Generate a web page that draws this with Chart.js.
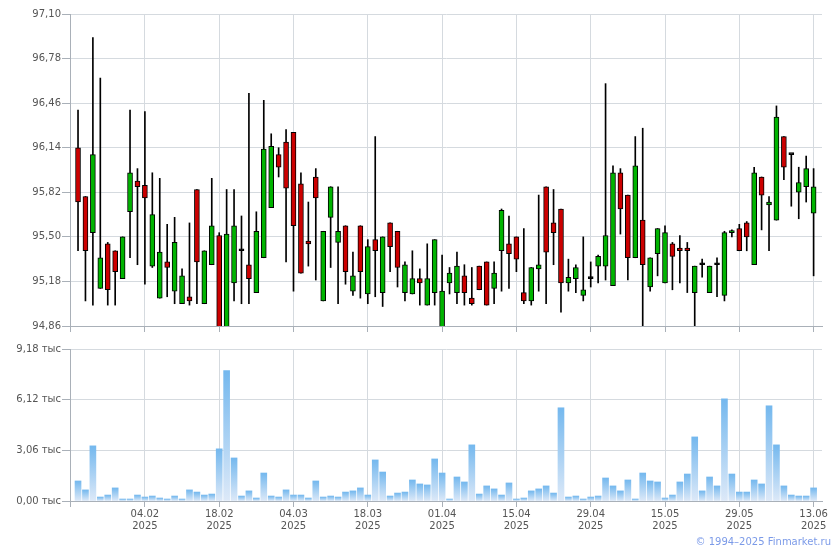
<!DOCTYPE html>
<html>
<head>
<meta charset="utf-8">
<script src="https://cdn.jsdelivr.net/npm/chart.js@4.4.0/dist/chart.umd.min.js"></script>
<style>
  body { margin: 0; background: #fff; width: 840px; height: 550px; position: relative; overflow: hidden; }
  #price { position: absolute; left: 0; top: 0; }
  #volume { position: absolute; left: 0; top: 340px; }
  #copy { position: absolute; right: 9px; top: 536px; font: 10px "DejaVu Sans"; color: #7b9ae8; }
</style>
</head>
<body>
<canvas id="price" width="840" height="340"></canvas>
<canvas id="volume" width="840" height="210"></canvas>
<div id="copy">© 1994–2025 Finmarket.ru</div>
<script>
// OHLC per trading day, 22.01.2025 .. 13.06.2025
var opens = [96.14,95.79,95.53,95.13,95.45,95.40,95.20,95.68,95.90,95.87,
  95.29,95.06,95.32,95.11,95.02,95.07,95.84,95.02,95.30,95.51,
  94.84,95.17,95.40,95.30,95.10,95.35,95.71,96.09,96.18,96.25,
  95.88,95.47,95.93,95.04,95.64,95.46,95.58,95.11,95.58,95.09,
  95.48,95.10,95.60,95.54,95.10,95.09,95.20,95.01,95.10,94.84,
  95.17,95.10,95.22,95.06,95.29,95.32,95.13,95.40,95.45,95.50,
  95.10,95.04,95.27,95.86,95.60,95.70,95.17,95.20,95.08,95.20,
  95.29,95.29,95.15,95.96,95.80,95.35,95.62,95.14,95.38,95.17,
  95.45,95.42,95.42,95.10,95.30,95.10,95.30,95.08,95.53,95.56,
  95.60,95.30,95.93,95.73,95.62,96.22,96.09,95.82,95.86,95.67]
var highs = [96.41,95.79,96.93,96.64,95.46,95.40,95.50,96.41,95.99,96.40,
  95.96,95.92,95.59,95.64,95.27,95.60,95.84,95.40,95.92,95.53,
  95.84,95.84,95.65,96.53,95.68,96.48,96.24,96.14,96.27,96.25,
  95.96,95.75,95.99,95.54,95.86,95.86,95.58,95.39,95.58,95.48,
  96.22,95.50,95.60,95.54,95.32,95.40,95.27,95.45,95.48,95.37,
  95.28,95.39,95.30,95.28,95.29,95.32,95.32,95.70,95.65,95.50,
  95.56,95.28,95.80,95.86,95.84,95.70,95.34,95.30,95.50,95.32,
  95.37,96.60,96.01,95.99,95.80,96.22,96.28,95.35,95.56,95.58,
  95.46,95.51,95.46,95.29,95.34,95.29,95.35,95.54,95.55,95.59,
  95.61,96.00,95.93,95.79,96.44,96.22,96.09,96.00,96.08,95.99]
var lows = [95.40,95.04,95.01,95.13,95.01,95.01,95.20,95.35,95.30,95.16,
  95.28,95.06,95.07,95.02,95.02,95.01,95.02,95.02,95.30,94.84,
  94.84,95.04,95.02,95.02,95.10,95.35,95.71,95.93,95.32,95.11,
  95.24,95.29,95.19,95.04,95.28,95.02,95.16,95.08,95.06,95.02,
  95.07,95.00,95.25,95.14,95.04,95.09,95.01,95.01,95.01,94.84,
  95.09,95.02,95.01,95.01,95.12,95.01,95.02,95.11,95.13,95.25,
  95.02,95.01,95.11,95.02,95.30,94.96,95.11,95.10,95.04,95.14,
  95.17,95.19,95.15,95.52,95.19,95.35,94.84,95.11,95.22,95.17,
  95.12,95.17,95.10,94.84,95.21,95.10,95.07,95.04,95.50,95.40,
  95.40,95.30,95.55,95.40,95.62,95.91,95.72,95.63,95.75,95.22]
var closes = [95.75,95.40,96.09,95.35,95.12,95.25,95.50,95.96,95.86,95.78,
  95.66,95.39,95.28,95.46,95.22,95.04,95.32,95.40,95.58,94.84,
  95.52,95.58,95.40,95.20,95.54,96.13,96.15,96.00,95.85,95.58,
  95.24,95.45,95.78,95.54,95.86,95.54,95.25,95.22,95.25,95.43,
  95.40,95.50,95.43,95.28,95.30,95.20,95.17,95.20,95.48,95.11,
  95.24,95.29,95.10,95.02,95.12,95.01,95.24,95.69,95.38,95.34,
  95.04,95.28,95.30,95.39,95.53,95.17,95.21,95.28,95.12,95.20,
  95.36,95.51,95.96,95.70,95.35,96.01,95.30,95.35,95.56,95.53,
  95.36,95.40,95.40,95.29,95.30,95.29,95.30,95.53,95.54,95.40,
  95.50,95.96,95.80,95.75,96.36,96.00,96.09,95.89,95.99,95.86]
// volume, thousands
var volumes = [1.21,0.67,3.33,0.24,0.36,0.79,0.12,0.12,0.36,0.24,
  0.30,0.18,0.12,0.30,0.12,0.67,0.54,0.36,0.42,3.15,
  7.87,2.60,0.30,0.61,0.18,1.69,0.30,0.24,0.67,0.36,
  0.36,0.18,1.21,0.24,0.30,0.24,0.54,0.61,0.79,0.36,
  2.48,1.75,0.30,0.48,0.54,1.27,1.03,0.97,2.54,1.69,
  0.12,1.45,1.15,3.39,0.42,0.91,0.73,0.36,1.09,0.12,
  0.18,0.61,0.73,0.91,0.48,5.63,0.24,0.30,0.12,0.24,
  0.30,1.39,0.91,0.61,1.27,0.12,1.69,1.21,1.15,0.18,
  0.36,1.15,1.63,3.87,0.61,1.45,0.91,6.17,1.63,0.54,
  0.54,1.27,1.03,5.75,3.39,0.91,0.36,0.30,0.30,0.79]

var tickDates = ['04.02','18.02','04.03','18.03','01.04','15.04','29.04','15.05','29.05','13.06']
var tickYear = '2025'
var tickPos = [9,19,29,39,49,59,69,79,89,99]
var priceTicks = [94.86,95.18,95.50,95.82,96.14,96.46,96.78,97.10]
var volumeTicks = [0,3.06,6.12,9.18]

var xMin = -1.08, xMax = 100.13
var gridColor = '#d5dadf'
var axisColor = '#a9b0b8'
var textColor = '#555555'
var font = { family: 'DejaVu Sans', size: 10 }

function xAxis(showLabels){
  return {
    type: 'linear',
    min: xMin,
    max: xMax,
    offset: false,
    afterBuildTicks: function(scale){
      scale.ticks = [{value: xMin}].concat(tickPos.map(v => ({value: v})))
    },
    afterFit: function(scale){
      if (showLabels) scale.height = 49
    },
    ticks: {
      display: showLabels,
      autoSkip: false,
      maxRotation: 0,
      padding: 1,
      color: textColor,
      font: font,
      callback: function(v){
        var k = tickPos.indexOf(v)
        return k < 0 ? '' : [tickDates[k], tickYear]
      }
    },
    grid: { offset: false, color: gridColor, tickColor: axisColor, tickLength: 6 },
    border: { color: axisColor }
  }
}

function yAxis(min, max, list, fmt){
  return {
    min: min,
    max: max,
    afterBuildTicks: function(scale){ scale.ticks = list.map(v => ({value: v})) },
    afterFit: function(scale){ scale.width = 70 },
    ticks: { color: textColor, font: font, padding: 1, callback: fmt },
    grid: { color: gridColor, tickColor: axisColor, tickLength: 8 },
    border: { color: axisColor }
  }
}

function renderPrice(){
  var bodies = []
  var wicks = []
  var colors = []
  opens.forEach((o, i) => {
    bodies.push({x: i, y: [o, closes[i]]})
    wicks.push({x: i, y: [lows[i], highs[i]]})
    colors.push(closes[i] > o ? '#00b400' : (closes[i] < o ? '#cc0000' : '#000000'))
  })
  new Chart(document.getElementById('price'), {
    type: 'bar',
    data: {
      datasets: [{
        label: 'body',
        data: bodies,
        backgroundColor: colors,
        borderColor: '#000000',
        borderWidth: 1,
        borderSkipped: false,
        barThickness: 5,
        minBarLength: 2,
        grouped: false,
        order: 0
      }, {
        label: 'wick',
        data: wicks,
        backgroundColor: '#000000',
        borderWidth: 0,
        barThickness: 1,
        grouped: false,
        order: 1
      }]
    },
    options: {
      responsive: false,
      animation: false,
      layout: { padding: { top: 14, right: 18, bottom: 8, left: 0 } },
      plugins: { legend: { display: false }, tooltip: { enabled: false } },
      scales: {
        x: xAxis(false),
        y: yAxis(94.86, 97.10, priceTicks, v => v.toFixed(2).replace('.', ','))
      }
    }
  })
}
renderPrice()

function renderVolume(){
  var data = volumes.map((v, i) => ({x: i, y: v}))
  new Chart(document.getElementById('volume'), {
    type: 'bar',
    data: {
      datasets: [{
        label: 'volume',
        data: data,
        barThickness: 6,
        borderWidth: 0,
        backgroundColor: function(ctx){
          var chart = ctx.chart
          var area = chart.chartArea
          if (!area || ctx.type !== 'data') return '#9ccbf3'
          var top = chart.scales.y.getPixelForValue(ctx.parsed.y)
          var g = chart.ctx.createLinearGradient(0, top, 0, area.bottom)
          g.addColorStop(0, '#74b8ee')
          g.addColorStop(1, '#dde9f8')
          return g
        }
      }]
    },
    options: {
      responsive: false,
      animation: false,
      layout: { padding: { top: 9, right: 18, bottom: 0, left: 0 } },
      plugins: { legend: { display: false }, tooltip: { enabled: false } },
      scales: {
        x: xAxis(true),
        y: yAxis(0, 9.18, volumeTicks, v => v.toFixed(2).replace('.', ',') + ' тыс')
      }
    }
  })
}
renderVolume()
</script>
</body>
</html>
